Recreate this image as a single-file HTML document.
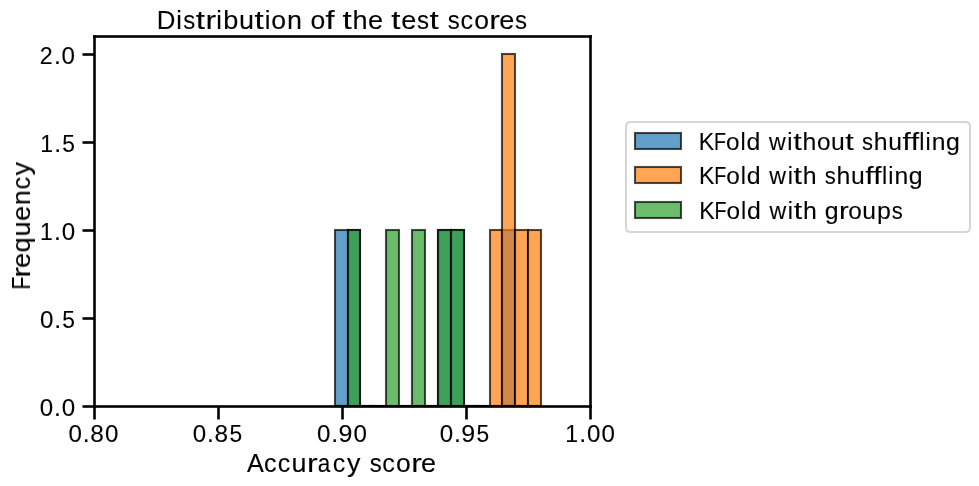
<!DOCTYPE html>
<html><head><meta charset="utf-8"><style>
html,body{margin:0;padding:0;background:#fff;overflow:hidden;}
svg{display:block;}
text{will-change:transform;}
text{font-family:"Liberation Sans", sans-serif;fill:#000;stroke:#000;stroke-width:0.1px;}
</style></head><body>
<svg width="979" height="486" viewBox="0 0 979 486" shape-rendering="auto">
<rect x="0" y="0" width="979" height="486" fill="#fff"/>
<rect x="358.959" y="404.959" width="15.083" height="2.083" fill="#000" fill-opacity="0.7"/>
<rect x="371.959" y="404.959" width="15.083" height="2.083" fill="#000" fill-opacity="0.7"/>
<rect x="384.959" y="404.959" width="15.083" height="2.083" fill="#000" fill-opacity="0.7"/>
<rect x="397.959" y="404.959" width="15.083" height="2.083" fill="#000" fill-opacity="0.7"/>
<rect x="410.959" y="404.959" width="15.083" height="2.083" fill="#000" fill-opacity="0.7"/>
<rect x="423.959" y="404.959" width="15.083" height="2.083" fill="#000" fill-opacity="0.7"/>
<rect x="462.959" y="404.959" width="15.083" height="2.083" fill="#000" fill-opacity="0.7"/>
<rect x="475.959" y="404.959" width="15.083" height="2.083" fill="#000" fill-opacity="0.7"/>
<rect x="488.959" y="404.959" width="14.083" height="2.083" fill="#000" fill-opacity="0.7"/>
<rect x="513.958" y="404.959" width="15.083" height="2.083" fill="#000" fill-opacity="0.7"/>
<rect x="526.958" y="404.959" width="15.083" height="2.083" fill="#000" fill-opacity="0.7"/>
<rect x="335" y="230" width="13" height="176" fill="#1f77b4" fill-opacity="0.7" stroke="#000" stroke-opacity="0.7" stroke-width="2.083"/>
<rect x="348" y="230" width="12" height="176" fill="#1f77b4" fill-opacity="0.7" stroke="#000" stroke-opacity="0.7" stroke-width="2.083"/>
<rect x="438" y="230" width="13" height="176" fill="#1f77b4" fill-opacity="0.7" stroke="#000" stroke-opacity="0.7" stroke-width="2.083"/>
<rect x="451" y="230" width="13" height="176" fill="#1f77b4" fill-opacity="0.7" stroke="#000" stroke-opacity="0.7" stroke-width="2.083"/>
<rect x="502" y="230" width="13" height="176" fill="#1f77b4" fill-opacity="0.7" stroke="#000" stroke-opacity="0.7" stroke-width="2.083"/>
<rect x="333.959" y="404.959" width="15.083" height="2.083" fill="#000" fill-opacity="0.7"/>
<rect x="346.959" y="404.959" width="14.083" height="2.083" fill="#000" fill-opacity="0.7"/>
<rect x="358.959" y="404.959" width="15.083" height="2.083" fill="#000" fill-opacity="0.7"/>
<rect x="371.959" y="404.959" width="15.083" height="2.083" fill="#000" fill-opacity="0.7"/>
<rect x="384.959" y="404.959" width="15.083" height="2.083" fill="#000" fill-opacity="0.7"/>
<rect x="397.959" y="404.959" width="15.083" height="2.083" fill="#000" fill-opacity="0.7"/>
<rect x="410.959" y="404.959" width="15.083" height="2.083" fill="#000" fill-opacity="0.7"/>
<rect x="423.959" y="404.959" width="15.083" height="2.083" fill="#000" fill-opacity="0.7"/>
<rect x="436.959" y="404.959" width="15.083" height="2.083" fill="#000" fill-opacity="0.7"/>
<rect x="449.959" y="404.959" width="15.083" height="2.083" fill="#000" fill-opacity="0.7"/>
<rect x="462.959" y="404.959" width="15.083" height="2.083" fill="#000" fill-opacity="0.7"/>
<rect x="475.959" y="404.959" width="15.083" height="2.083" fill="#000" fill-opacity="0.7"/>
<rect x="490" y="230" width="12" height="176" fill="#ff7f0e" fill-opacity="0.7" stroke="#000" stroke-opacity="0.7" stroke-width="2.083"/>
<rect x="502" y="54" width="13" height="352" fill="#ff7f0e" fill-opacity="0.7" stroke="#000" stroke-opacity="0.7" stroke-width="2.083"/>
<rect x="515" y="230" width="13" height="176" fill="#ff7f0e" fill-opacity="0.7" stroke="#000" stroke-opacity="0.7" stroke-width="2.083"/>
<rect x="528" y="230" width="13" height="176" fill="#ff7f0e" fill-opacity="0.7" stroke="#000" stroke-opacity="0.7" stroke-width="2.083"/>
<rect x="333.959" y="404.959" width="15.083" height="2.083" fill="#000" fill-opacity="0.7"/>
<rect x="358.959" y="404.959" width="15.083" height="2.083" fill="#000" fill-opacity="0.7"/>
<rect x="371.959" y="404.959" width="15.083" height="2.083" fill="#000" fill-opacity="0.7"/>
<rect x="397.959" y="404.959" width="15.083" height="2.083" fill="#000" fill-opacity="0.7"/>
<rect x="423.959" y="404.959" width="15.083" height="2.083" fill="#000" fill-opacity="0.7"/>
<rect x="462.959" y="404.959" width="15.083" height="2.083" fill="#000" fill-opacity="0.7"/>
<rect x="475.959" y="404.959" width="15.083" height="2.083" fill="#000" fill-opacity="0.7"/>
<rect x="488.959" y="404.959" width="14.083" height="2.083" fill="#000" fill-opacity="0.7"/>
<rect x="500.959" y="404.959" width="15.083" height="2.083" fill="#000" fill-opacity="0.7"/>
<rect x="513.958" y="404.959" width="15.083" height="2.083" fill="#000" fill-opacity="0.7"/>
<rect x="526.958" y="404.959" width="15.083" height="2.083" fill="#000" fill-opacity="0.7"/>
<rect x="348" y="230" width="12" height="176" fill="#2ca02c" fill-opacity="0.7" stroke="#000" stroke-opacity="0.7" stroke-width="2.083"/>
<rect x="386" y="230" width="13" height="176" fill="#2ca02c" fill-opacity="0.7" stroke="#000" stroke-opacity="0.7" stroke-width="2.083"/>
<rect x="412" y="230" width="13" height="176" fill="#2ca02c" fill-opacity="0.7" stroke="#000" stroke-opacity="0.7" stroke-width="2.083"/>
<rect x="438" y="230" width="13" height="176" fill="#2ca02c" fill-opacity="0.7" stroke="#000" stroke-opacity="0.7" stroke-width="2.083"/>
<rect x="451" y="230" width="13" height="176" fill="#2ca02c" fill-opacity="0.7" stroke="#000" stroke-opacity="0.7" stroke-width="2.083"/>
<rect x="82.500" y="53.198" width="12.500" height="2.604" fill="#000"/>
<rect x="82.500" y="141.198" width="12.500" height="2.604" fill="#000"/>
<rect x="82.500" y="229.198" width="12.500" height="2.604" fill="#000"/>
<rect x="82.500" y="317.198" width="12.500" height="2.604" fill="#000"/>
<rect x="82.500" y="405.198" width="12.500" height="2.604" fill="#000"/>
<rect x="93.198" y="406.000" width="2.604" height="13.500" fill="#000"/>
<rect x="217.198" y="406.000" width="2.604" height="13.500" fill="#000"/>
<rect x="341.198" y="406.000" width="2.604" height="13.500" fill="#000"/>
<rect x="465.198" y="406.000" width="2.604" height="13.500" fill="#000"/>
<rect x="589.198" y="406.000" width="2.604" height="13.500" fill="#000"/>
<rect x="93.198" y="35.198" width="2.604" height="372.604" fill="#000"/>
<rect x="589.198" y="35.198" width="2.604" height="372.604" fill="#000"/>
<rect x="93.198" y="35.198" width="498.604" height="2.604" fill="#000"/>
<rect x="93.198" y="405.198" width="498.604" height="2.604" fill="#000"/>
<path d="M630.583,122 L965.417,122 Q970,122 970,126.583 L970,227.417 Q970,232 965.417,232 L630.583,232 Q626,232 626,227.417 L626,126.583 Q626,122 630.583,122 Z" fill="#fff" stroke="#d6d6d6" stroke-width="2.083"/>
<rect x="635" y="133" width="46" height="16" fill="#1f77b4" fill-opacity="0.7" stroke="#000" stroke-opacity="0.7" stroke-width="2.083"/>
<rect x="635" y="167" width="46" height="16" fill="#ff7f0e" fill-opacity="0.7" stroke="#000" stroke-opacity="0.7" stroke-width="2.083"/>
<rect x="635" y="202" width="46" height="16" fill="#2ca02c" fill-opacity="0.7" stroke="#000" stroke-opacity="0.7" stroke-width="2.083"/>
<text transform="translate(156.40 29.00)" y="0" font-size="26.500"><tspan x="0.33" textLength="18.68" lengthAdjust="spacingAndGlyphs">D</tspan><tspan x="19.90" textLength="5.68" lengthAdjust="spacingAndGlyphs">i</tspan><tspan x="26.88" textLength="11.98" lengthAdjust="spacingAndGlyphs">s</tspan><tspan x="39.39" textLength="9.28" lengthAdjust="spacingAndGlyphs">t</tspan><tspan x="49.17" textLength="10.67" lengthAdjust="spacingAndGlyphs">r</tspan><tspan x="59.95" textLength="5.68" lengthAdjust="spacingAndGlyphs">i</tspan><tspan x="66.77" textLength="15.13" lengthAdjust="spacingAndGlyphs">b</tspan><tspan x="82.49" textLength="14.99" lengthAdjust="spacingAndGlyphs">u</tspan><tspan x="98.13" textLength="9.28" lengthAdjust="spacingAndGlyphs">t</tspan><tspan x="108.41" textLength="5.68" lengthAdjust="spacingAndGlyphs">i</tspan><tspan x="114.97" textLength="14.78" lengthAdjust="spacingAndGlyphs">o</tspan><tspan x="130.49" textLength="14.99" lengthAdjust="spacingAndGlyphs">n</tspan><tspan x="145.85"> </tspan><tspan x="154.06" textLength="14.78" lengthAdjust="spacingAndGlyphs">o</tspan><tspan x="169.20" textLength="9.12" lengthAdjust="spacingAndGlyphs">f</tspan><tspan x="177.89"> </tspan><tspan x="186.01" textLength="9.28" lengthAdjust="spacingAndGlyphs">t</tspan><tspan x="196.03" textLength="15.09" lengthAdjust="spacingAndGlyphs">h</tspan><tspan x="211.72" textLength="15.02" lengthAdjust="spacingAndGlyphs">e</tspan><tspan x="226.87"> </tspan><tspan x="234.98" textLength="9.28" lengthAdjust="spacingAndGlyphs">t</tspan><tspan x="244.85" textLength="15.02" lengthAdjust="spacingAndGlyphs">e</tspan><tspan x="260.69" textLength="11.98" lengthAdjust="spacingAndGlyphs">s</tspan><tspan x="273.19" textLength="9.28" lengthAdjust="spacingAndGlyphs">t</tspan><tspan x="282.82"> </tspan><tspan x="291.46" textLength="11.98" lengthAdjust="spacingAndGlyphs">s</tspan><tspan x="304.11" textLength="12.54" lengthAdjust="spacingAndGlyphs">c</tspan><tspan x="317.80" textLength="14.78" lengthAdjust="spacingAndGlyphs">o</tspan><tspan x="332.98" textLength="10.67" lengthAdjust="spacingAndGlyphs">r</tspan><tspan x="342.80" textLength="15.02" lengthAdjust="spacingAndGlyphs">e</tspan><tspan x="358.63" textLength="11.98" lengthAdjust="spacingAndGlyphs">s</tspan></text>
<text transform="translate(246.94 472.00)" y="0" font-size="26.500"><tspan x="0.15" textLength="16.80" lengthAdjust="spacingAndGlyphs">A</tspan><tspan x="16.98" textLength="12.54" lengthAdjust="spacingAndGlyphs">c</tspan><tspan x="30.72" textLength="12.54" lengthAdjust="spacingAndGlyphs">c</tspan><tspan x="44.53" textLength="14.99" lengthAdjust="spacingAndGlyphs">u</tspan><tspan x="60.14" textLength="10.67" lengthAdjust="spacingAndGlyphs">r</tspan><tspan x="70.82" textLength="12.50" lengthAdjust="spacingAndGlyphs">a</tspan><tspan x="85.91" textLength="12.54" lengthAdjust="spacingAndGlyphs">c</tspan><tspan x="100.02" textLength="13.42" lengthAdjust="spacingAndGlyphs">y</tspan><tspan x="114.14"> </tspan><tspan x="122.77" textLength="11.98" lengthAdjust="spacingAndGlyphs">s</tspan><tspan x="135.42" textLength="12.54" lengthAdjust="spacingAndGlyphs">c</tspan><tspan x="149.12" textLength="14.78" lengthAdjust="spacingAndGlyphs">o</tspan><tspan x="164.29" textLength="10.67" lengthAdjust="spacingAndGlyphs">r</tspan><tspan x="174.11" textLength="15.02" lengthAdjust="spacingAndGlyphs">e</tspan></text>
<text transform="translate(30.00 290.43) rotate(-90)" y="0" font-size="26.500"><tspan x="0.70" textLength="13.09" lengthAdjust="spacingAndGlyphs">F</tspan><tspan x="12.70" textLength="10.67" lengthAdjust="spacingAndGlyphs">r</tspan><tspan x="22.52" textLength="15.02" lengthAdjust="spacingAndGlyphs">e</tspan><tspan x="37.91" textLength="15.10" lengthAdjust="spacingAndGlyphs">q</tspan><tspan x="53.91" textLength="14.99" lengthAdjust="spacingAndGlyphs">u</tspan><tspan x="69.62" textLength="15.02" lengthAdjust="spacingAndGlyphs">e</tspan><tspan x="85.25" textLength="14.99" lengthAdjust="spacingAndGlyphs">n</tspan><tspan x="100.92" textLength="12.54" lengthAdjust="spacingAndGlyphs">c</tspan><tspan x="115.03" textLength="13.42" lengthAdjust="spacingAndGlyphs">y</tspan></text>
<text transform="translate(39.20 64.00)" y="0" font-size="24.292"><tspan x="0.51" textLength="12.95" lengthAdjust="spacingAndGlyphs">2</tspan><tspan x="14.77" textLength="6.89" lengthAdjust="spacingAndGlyphs">.</tspan><tspan x="22.43" textLength="13.44" lengthAdjust="spacingAndGlyphs">0</tspan></text>
<text transform="translate(39.52 152.00)" y="0" font-size="24.292"><tspan x="0.76" textLength="12.83" lengthAdjust="spacingAndGlyphs">1</tspan><tspan x="14.77" textLength="6.89" lengthAdjust="spacingAndGlyphs">.</tspan><tspan x="22.72" textLength="12.68" lengthAdjust="spacingAndGlyphs">5</tspan></text>
<text transform="translate(39.28 240.00)" y="0" font-size="24.292"><tspan x="0.76" textLength="12.83" lengthAdjust="spacingAndGlyphs">1</tspan><tspan x="14.77" textLength="6.89" lengthAdjust="spacingAndGlyphs">.</tspan><tspan x="22.43" textLength="13.44" lengthAdjust="spacingAndGlyphs">0</tspan></text>
<text transform="translate(39.52 328.00)" y="0" font-size="24.292"><tspan x="0.57" textLength="13.44" lengthAdjust="spacingAndGlyphs">0</tspan><tspan x="14.77" textLength="6.89" lengthAdjust="spacingAndGlyphs">.</tspan><tspan x="22.72" textLength="12.68" lengthAdjust="spacingAndGlyphs">5</tspan></text>
<text transform="translate(39.28 416.00)" y="0" font-size="24.292"><tspan x="0.57" textLength="13.44" lengthAdjust="spacingAndGlyphs">0</tspan><tspan x="14.77" textLength="6.89" lengthAdjust="spacingAndGlyphs">.</tspan><tspan x="22.43" textLength="13.44" lengthAdjust="spacingAndGlyphs">0</tspan></text>
<text transform="translate(67.99 442.00)" y="0" font-size="24.292"><tspan x="0.57" textLength="13.44" lengthAdjust="spacingAndGlyphs">0</tspan><tspan x="14.77" textLength="6.89" lengthAdjust="spacingAndGlyphs">.</tspan><tspan x="22.36" textLength="13.58" lengthAdjust="spacingAndGlyphs">8</tspan><tspan x="37.01" textLength="13.44" lengthAdjust="spacingAndGlyphs">0</tspan></text>
<text transform="translate(192.23 442.00)" y="0" font-size="24.292"><tspan x="0.57" textLength="13.44" lengthAdjust="spacingAndGlyphs">0</tspan><tspan x="14.77" textLength="6.89" lengthAdjust="spacingAndGlyphs">.</tspan><tspan x="22.36" textLength="13.58" lengthAdjust="spacingAndGlyphs">8</tspan><tspan x="37.30" textLength="12.68" lengthAdjust="spacingAndGlyphs">5</tspan></text>
<text transform="translate(316.49 442.00)" y="0" font-size="24.292"><tspan x="0.57" textLength="13.44" lengthAdjust="spacingAndGlyphs">0</tspan><tspan x="14.77" textLength="6.89" lengthAdjust="spacingAndGlyphs">.</tspan><tspan x="22.14" textLength="13.88" lengthAdjust="spacingAndGlyphs">9</tspan><tspan x="37.01" textLength="13.44" lengthAdjust="spacingAndGlyphs">0</tspan></text>
<text transform="translate(439.23 442.00)" y="0" font-size="24.292"><tspan x="0.57" textLength="13.44" lengthAdjust="spacingAndGlyphs">0</tspan><tspan x="14.77" textLength="6.89" lengthAdjust="spacingAndGlyphs">.</tspan><tspan x="22.14" textLength="13.88" lengthAdjust="spacingAndGlyphs">9</tspan><tspan x="37.30" textLength="12.68" lengthAdjust="spacingAndGlyphs">5</tspan></text>
<text transform="translate(564.49 442.00)" y="0" font-size="24.292"><tspan x="0.76" textLength="12.83" lengthAdjust="spacingAndGlyphs">1</tspan><tspan x="14.77" textLength="6.89" lengthAdjust="spacingAndGlyphs">.</tspan><tspan x="22.43" textLength="13.44" lengthAdjust="spacingAndGlyphs">0</tspan><tspan x="37.01" textLength="13.44" lengthAdjust="spacingAndGlyphs">0</tspan></text>
<text transform="translate(698.43 150.00)" y="0" font-size="24.292"><tspan x="0.35" textLength="15.42" lengthAdjust="spacingAndGlyphs">K</tspan><tspan x="15.67" textLength="12.00" lengthAdjust="spacingAndGlyphs">F</tspan><tspan x="27.63" textLength="13.55" lengthAdjust="spacingAndGlyphs">o</tspan><tspan x="42.00" textLength="5.20" lengthAdjust="spacingAndGlyphs">l</tspan><tspan x="48.00" textLength="13.85" lengthAdjust="spacingAndGlyphs">d</tspan><tspan x="62.33"> </tspan><tspan x="70.61" textLength="16.73" lengthAdjust="spacingAndGlyphs">w</tspan><tspan x="88.95" textLength="5.20" lengthAdjust="spacingAndGlyphs">i</tspan><tspan x="94.87" textLength="8.51" lengthAdjust="spacingAndGlyphs">t</tspan><tspan x="104.06" textLength="13.84" lengthAdjust="spacingAndGlyphs">h</tspan><tspan x="118.47" textLength="13.55" lengthAdjust="spacingAndGlyphs">o</tspan><tspan x="132.60" textLength="13.74" lengthAdjust="spacingAndGlyphs">u</tspan><tspan x="146.93" textLength="8.51" lengthAdjust="spacingAndGlyphs">t</tspan><tspan x="155.76"> </tspan><tspan x="163.68" textLength="10.98" lengthAdjust="spacingAndGlyphs">s</tspan><tspan x="175.34" textLength="13.84" lengthAdjust="spacingAndGlyphs">h</tspan><tspan x="189.86" textLength="13.74" lengthAdjust="spacingAndGlyphs">u</tspan><tspan x="204.14" textLength="8.36" lengthAdjust="spacingAndGlyphs">f</tspan><tspan x="212.21" textLength="8.36" lengthAdjust="spacingAndGlyphs">f</tspan><tspan x="220.75" textLength="5.20" lengthAdjust="spacingAndGlyphs">l</tspan><tspan x="227.13" textLength="5.20" lengthAdjust="spacingAndGlyphs">i</tspan><tspan x="233.35" textLength="13.74" lengthAdjust="spacingAndGlyphs">n</tspan><tspan x="247.65" textLength="13.85" lengthAdjust="spacingAndGlyphs">g</tspan></text>
<text transform="translate(698.69 184.00)" y="0" font-size="24.292"><tspan x="0.35" textLength="15.42" lengthAdjust="spacingAndGlyphs">K</tspan><tspan x="15.67" textLength="12.00" lengthAdjust="spacingAndGlyphs">F</tspan><tspan x="27.63" textLength="13.55" lengthAdjust="spacingAndGlyphs">o</tspan><tspan x="42.00" textLength="5.20" lengthAdjust="spacingAndGlyphs">l</tspan><tspan x="48.00" textLength="13.85" lengthAdjust="spacingAndGlyphs">d</tspan><tspan x="62.33"> </tspan><tspan x="70.61" textLength="16.73" lengthAdjust="spacingAndGlyphs">w</tspan><tspan x="88.95" textLength="5.20" lengthAdjust="spacingAndGlyphs">i</tspan><tspan x="94.87" textLength="8.51" lengthAdjust="spacingAndGlyphs">t</tspan><tspan x="104.06" textLength="13.84" lengthAdjust="spacingAndGlyphs">h</tspan><tspan x="118.23"> </tspan><tspan x="126.15" textLength="10.98" lengthAdjust="spacingAndGlyphs">s</tspan><tspan x="137.81" textLength="13.84" lengthAdjust="spacingAndGlyphs">h</tspan><tspan x="152.32" textLength="13.74" lengthAdjust="spacingAndGlyphs">u</tspan><tspan x="166.61" textLength="8.36" lengthAdjust="spacingAndGlyphs">f</tspan><tspan x="174.67" textLength="8.36" lengthAdjust="spacingAndGlyphs">f</tspan><tspan x="183.22" textLength="5.20" lengthAdjust="spacingAndGlyphs">l</tspan><tspan x="189.60" textLength="5.20" lengthAdjust="spacingAndGlyphs">i</tspan><tspan x="195.82" textLength="13.74" lengthAdjust="spacingAndGlyphs">n</tspan><tspan x="210.12" textLength="13.85" lengthAdjust="spacingAndGlyphs">g</tspan></text>
<text transform="translate(698.93 219.00)" y="0" font-size="24.292"><tspan x="0.35" textLength="15.42" lengthAdjust="spacingAndGlyphs">K</tspan><tspan x="15.67" textLength="12.00" lengthAdjust="spacingAndGlyphs">F</tspan><tspan x="27.63" textLength="13.55" lengthAdjust="spacingAndGlyphs">o</tspan><tspan x="42.00" textLength="5.20" lengthAdjust="spacingAndGlyphs">l</tspan><tspan x="48.00" textLength="13.85" lengthAdjust="spacingAndGlyphs">d</tspan><tspan x="62.33"> </tspan><tspan x="70.61" textLength="16.73" lengthAdjust="spacingAndGlyphs">w</tspan><tspan x="88.95" textLength="5.20" lengthAdjust="spacingAndGlyphs">i</tspan><tspan x="94.87" textLength="8.51" lengthAdjust="spacingAndGlyphs">t</tspan><tspan x="104.06" textLength="13.84" lengthAdjust="spacingAndGlyphs">h</tspan><tspan x="118.23"> </tspan><tspan x="125.74" textLength="13.85" lengthAdjust="spacingAndGlyphs">g</tspan><tspan x="140.20" textLength="9.78" lengthAdjust="spacingAndGlyphs">r</tspan><tspan x="149.22" textLength="13.55" lengthAdjust="spacingAndGlyphs">o</tspan><tspan x="163.35" textLength="13.74" lengthAdjust="spacingAndGlyphs">u</tspan><tspan x="178.00" textLength="13.87" lengthAdjust="spacingAndGlyphs">p</tspan><tspan x="192.71" textLength="10.98" lengthAdjust="spacingAndGlyphs">s</tspan></text>
</svg>
</body></html>
